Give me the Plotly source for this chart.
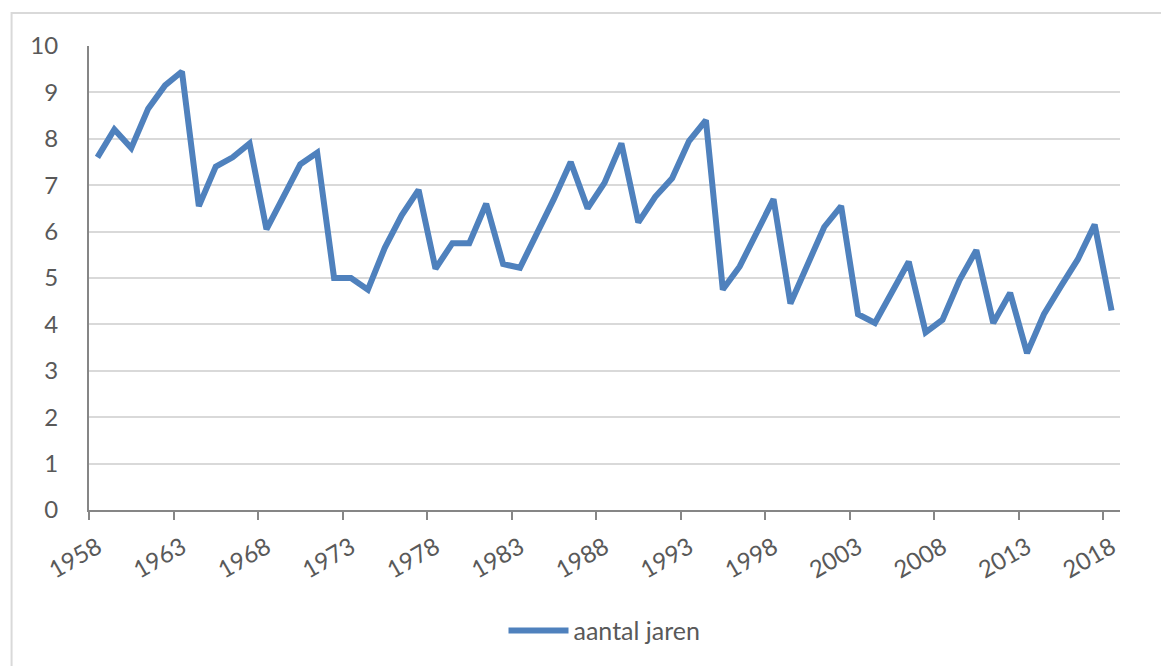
import plotly.graph_objects as go

years = list(range(1958, 2019))
aantal_jaren = [
    7.6, 8.2, 7.8, 8.65, 9.15, 9.45, 6.55, 7.4, 7.6, 7.9,
    6.05, 6.75, 7.45, 7.7, 5.0, 5.0, 4.75, 5.65, 6.35, 6.9,
    5.2, 5.75, 5.75, 6.6, 5.3, 5.22, 5.95, 6.7, 7.5, 6.5,
    7.05, 7.9, 6.2, 6.75, 7.15, 7.95, 8.4, 4.75, 5.25, 5.95,
    6.7, 4.45, 5.3, 6.1, 6.55, 4.22, 4.03, 4.7, 5.35, 3.83,
    4.1, 4.95, 5.6, 4.03, 4.68, 3.38, 4.22, 4.82, 5.4, 6.15,
    4.3,
]
label_years = list(range(1958, 2019, 5))
boundary_ticks = [y - 0.5 for y in label_years]
series_name = "aantal jaren"

FONT = "Lato, 'Open Sans', sans-serif"
TXT = "#595959"
AX = "#868686"
GRID = "#d9d9d9"

fig = go.Figure()
fig.add_trace(go.Scatter(
    x=years, y=aantal_jaren, mode="lines", name=series_name,
    line=dict(color="#4f81bd", width=6),
))

fig.update_layout(
    width=1169, height=666,
    margin=dict(l=80.5, r=57, t=38, b=164),
    paper_bgcolor="white", plot_bgcolor="white",
    font=dict(family=FONT, size=24, color=TXT),
    showlegend=True,
    legend=dict(orientation="h", x=0.5, xanchor="center", y=-0.26, yanchor="middle",
                font=dict(size=25, color=TXT), itemwidth=60),
    xaxis=dict(
        range=[1957.5, 2018.5], tickmode="array", tickvals=label_years,
        ticktext=[str(y) for y in label_years], tickangle=-30, ticks="",
        ticklabelstandoff=12,
        showline=True, linecolor=AX, linewidth=2, showgrid=False, zeroline=False,
        tickfont=dict(size=24, color=TXT),
        minor=dict(tickmode="array", tickvals=boundary_ticks, ticks="outside",
                   ticklen=8, tickwidth=2, tickcolor=AX, showgrid=False),
    ),
    yaxis=dict(
        range=[0, 10], dtick=1, tick0=0, showline=True, linecolor=AX, linewidth=2,
        showgrid=True, gridcolor=GRID, gridwidth=2, zeroline=False, ticks="",
        ticklabelstandoff=24, tickfont=dict(size=24, color=TXT),
    ),
    shapes=[dict(type="path", xref="paper", yref="paper",
                 path="M -0.0751,-0.6 L -0.0751,1.0711 L 1.2,1.0711",
                 line=dict(color=GRID, width=2))],
)

fig.write_html("out.html")
